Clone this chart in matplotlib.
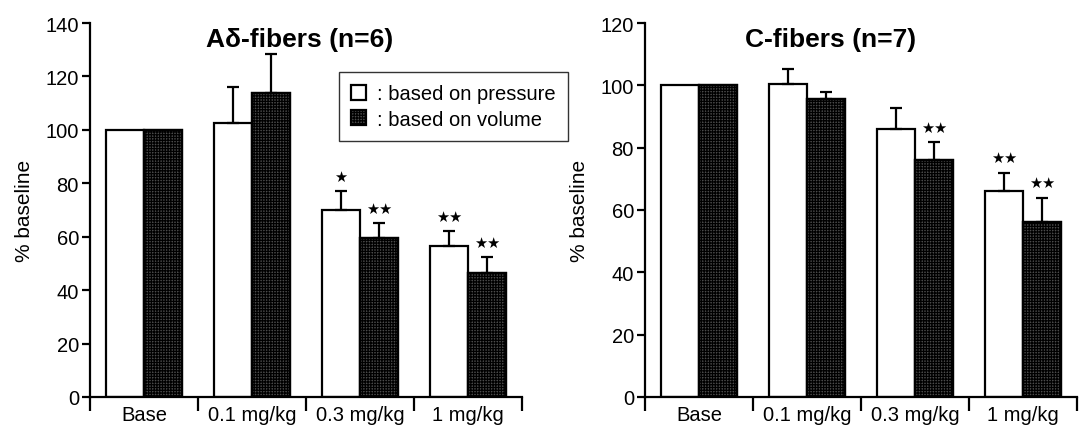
import matplotlib
matplotlib.use("Agg")
import matplotlib.pyplot as plt
from matplotlib.patches import Patch
import numpy as np

plt.rcParams['font.family'] = ['Liberation Sans', 'DejaVu Sans']
plt.rcParams['hatch.linewidth'] = 0.9

categories = ["Base", "0.1 mg/kg", "0.3 mg/kg", "1 mg/kg"]

# A-delta fibers (n=6)
ad_pressure = [100, 102.6, 70.1, 56.5]
ad_pressure_err = [0, 13.3, 6.9, 5.5]
ad_volume = [100, 113.9, 59.6, 46.3]
ad_volume_err = [0, 14.5, 5.4, 6.1]
ad_pressure_sig = ["", "", "★", "★★"]
ad_volume_sig = ["", "", "★★", "★★"]

# C fibers (n=7)
c_pressure = [100, 100.4, 86.0, 66.0]
c_pressure_err = [0, 4.7, 6.7, 5.9]
c_volume = [100, 95.7, 76.0, 56.0]
c_volume_err = [0, 2.3, 5.8, 7.9]
c_pressure_sig = ["", "", "", "★★"]
c_volume_sig = ["", "", "★★", "★★"]

fig = plt.figure(figsize=(10.92, 4.27), dpi=100)
W, H = 1092, 427
axL = fig.add_axes([90 / W, 1 - 398 / H, 432 / W, 374 / H])
axR = fig.add_axes([645 / W, 1 - 398 / H, 432 / W, 374 / H])

bw = 0.355
x = np.arange(len(categories))
DARK = '#4c4c4c'
HATCH = '++++++'


def panel(ax, p, pe, v, ve, ps, vs, ymax, title, title_x):
    ax.bar(x - bw / 2, p, width=bw, color='white', edgecolor='black', linewidth=1.6, zorder=2)
    ax.bar(x + bw / 2, v, width=bw, color=DARK, edgecolor='black', hatch=HATCH,
           linewidth=1.6, zorder=2)
    ax.bar(x + bw / 2, v, width=bw, color='none', edgecolor='black', linewidth=1.6, zorder=3)
    for xs, vals, errs in ((x - bw / 2, p, pe), (x + bw / 2, v, ve)):
        idx = [i for i in range(len(vals)) if errs[i] > 0]
        ax.errorbar(xs[idx], np.array(vals)[idx],
                    yerr=[np.zeros(len(idx)), np.array(errs)[idx]],
                    fmt='none', ecolor='black', elinewidth=1.6, capsize=4,
                    capthick=1.6, zorder=4)
    for xs, vals, errs, sig in ((x - bw / 2, p, pe, ps), (x + bw / 2, v, ve, vs)):
        for i, s in enumerate(sig):
            if s:
                ax.annotate(s, (xs[i], vals[i] + errs[i]), xytext=(0, 15),
                            textcoords='offset pixels', ha='center', va='center',
                            fontsize=10.5, family='DejaVu Sans')
    ax.set_xlim(-0.5, 3.5)
    ax.set_ylim(0, ymax)
    ax.set_yticks(np.arange(0, ymax + 1, 20))
    ax.set_xticks(x)
    ax.set_xticklabels(categories)
    ax.set_xticks(np.arange(-0.5, 3.6, 1.0), minor=True)
    ax.tick_params(axis='x', which='major', length=0, pad=6, labelsize=14.5)
    ax.tick_params(axis='x', which='minor', length=10, width=1.6, direction='out')
    ax.tick_params(axis='y', length=6, width=1.6, direction='out', labelsize=14.5, pad=2)
    for s in ('top', 'right'):
        ax.spines[s].set_visible(False)
    for s in ('left', 'bottom'):
        ax.spines[s].set_linewidth(1.6)
    ax.spines['left'].set_bounds(0, ymax)
    ax.set_ylabel('% baseline', fontsize=15, labelpad=8)
    ax.text(title_x, 0.957, title, transform=ax.transAxes, ha='center', va='center',
            fontsize=19, fontweight='bold')


panel(axL, ad_pressure, ad_pressure_err, ad_volume, ad_volume_err,
      ad_pressure_sig, ad_volume_sig, 140, "Aδ-fibers (n=6)", 0.486)
panel(axR, c_pressure, c_pressure_err, c_volume, c_volume_err,
      c_pressure_sig, c_volume_sig, 120, "C-fibers (n=7)", 0.43)

handles = [Patch(facecolor='white', edgecolor='black', linewidth=1.6),
           Patch(facecolor=DARK, edgecolor='black', hatch=HATCH, linewidth=1.6)]
leg = fig.legend(handles, [": based on pressure", ": based on volume"],
                 loc='upper left', bbox_to_anchor=(339 / W, 1 - 73 / H),
                 fontsize=14.5, frameon=True, fancybox=False, handlelength=0.72,
                 handleheight=0.72, handletextpad=0.55, borderpad=0.62,
                 labelspacing=0.3, borderaxespad=0)
leg.get_frame().set_edgecolor('black')
leg.get_frame().set_linewidth(1.0)

fig.savefig('out.png', dpi=100)
